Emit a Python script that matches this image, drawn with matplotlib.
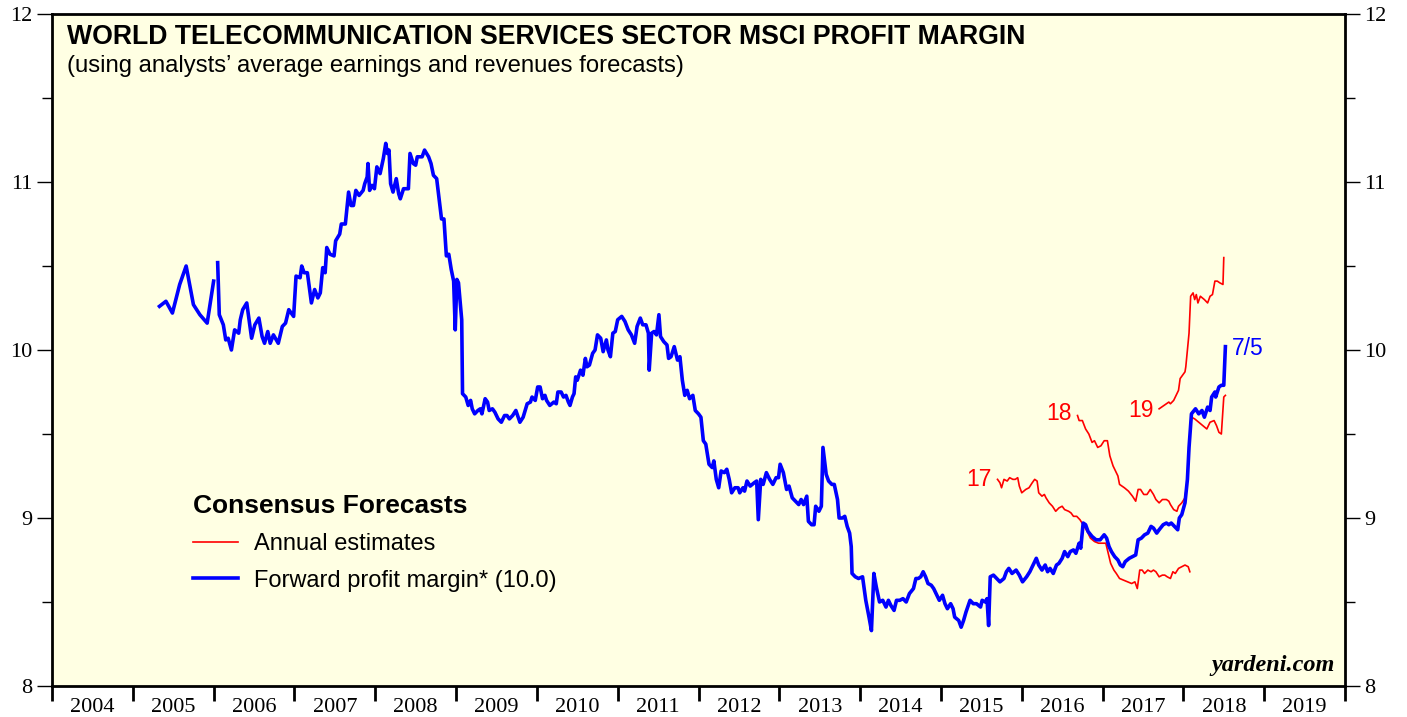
import numpy as np
import matplotlib
matplotlib.use("Agg")
import matplotlib.pyplot as plt
from matplotlib.lines import Line2D

# forward profit margin (weekly), nan = data gap
blue_years = [
    2005.33, 2005.41, 2005.49, 2005.58, 2005.66, 2005.75, 2005.83, 2005.92, 2006.00, np.nan,
    2006.05, 2006.07, 2006.12, 2006.15, 2006.18, 2006.22, 2006.26, 2006.31, 2006.33, 2006.36,
    2006.41, 2006.45, 2006.47, 2006.51, 2006.56, 2006.60, 2006.63, 2006.67, 2006.70, 2006.74,
    2006.80, 2006.85, 2006.89, 2006.93, 2006.99, 2007.02, 2007.07, 2007.09, 2007.12, 2007.16,
    2007.21, 2007.25, 2007.29, 2007.32, 2007.35, 2007.38, 2007.40, 2007.44, 2007.49, 2007.51,
    2007.56, 2007.58, 2007.63, 2007.67, 2007.70, 2007.73, 2007.76, 2007.80, 2007.85, 2007.87,
    2007.90, 2007.91, 2007.93, 2007.96, 2007.99, 2008.02, 2008.06, 2008.10, 2008.13, 2008.15,
    2008.17, 2008.19, 2008.22, 2008.26, 2008.29, 2008.31, 2008.35, 2008.41, 2008.43, 2008.47,
    2008.50, 2008.52, 2008.58, 2008.61, 2008.66, 2008.69, 2008.72, 2008.76, 2008.82, 2008.85,
    2008.88, 2008.91, 2008.94, 2008.97, 2008.99, 2009.01, 2009.03, 2009.07, 2009.08, 2009.12,
    2009.15, 2009.18, 2009.20, 2009.23, 2009.27, 2009.30, 2009.32, 2009.36, 2009.39, 2009.41,
    2009.45, 2009.48, 2009.52, 2009.56, 2009.60, 2009.63, 2009.66, 2009.70, 2009.74, 2009.79,
    2009.83, 2009.88, 2009.92, 2009.94, 2009.98, 2010.01, 2010.04, 2010.07, 2010.10, 2010.12,
    2010.16, 2010.21, 2010.24, 2010.26, 2010.30, 2010.33, 2010.36, 2010.39, 2010.41, 2010.44,
    2010.46, 2010.48, 2010.50, 2010.54, 2010.57, 2010.60, 2010.62, 2010.65, 2010.69, 2010.72,
    2010.75, 2010.79, 2010.82, 2010.86, 2010.88, 2010.91, 2010.94, 2010.97, 2011.00, 2011.05,
    2011.09, 2011.13, 2011.17, 2011.21, 2011.24, 2011.28, 2011.31, 2011.35, 2011.38, 2011.39,
    2011.42, 2011.45, 2011.48, 2011.51, 2011.53, 2011.57, 2011.61, 2011.63, 2011.66, 2011.70,
    2011.74, 2011.77, 2011.80, 2011.83, 2011.86, 2011.89, 2011.93, 2011.96, 2012.00, 2012.03,
    2012.06, 2012.09, 2012.13, 2012.17, 2012.19, 2012.22, 2012.25, 2012.28, 2012.32, 2012.35,
    2012.38, 2012.41, 2012.45, 2012.49, 2012.51, 2012.55, 2012.57, 2012.60, 2012.64, 2012.69,
    2012.72, 2012.74, 2012.77, 2012.80, 2012.84, 2012.88, 2012.92, 2012.96, 2012.99, 2013.01,
    2013.05, 2013.09, 2013.12, 2013.16, 2013.20, 2013.24, 2013.27, 2013.30, 2013.34, 2013.36,
    2013.40, 2013.43, 2013.45, 2013.49, 2013.52, 2013.54, 2013.58, 2013.61, 2013.65, 2013.68,
    2013.72, 2013.74, 2013.78, 2013.81, 2013.84, 2013.87, 2013.89, 2013.90, 2013.94, 2013.98,
    2014.03, 2014.07, 2014.11, 2014.14, 2014.17, 2014.20, 2014.24, 2014.28, 2014.32, 2014.35,
    2014.38, 2014.42, 2014.45, 2014.49, 2014.53, 2014.57, 2014.61, 2014.66, 2014.69, 2014.72,
    2014.75, 2014.78, 2014.81, 2014.84, 2014.88, 2014.91, 2014.94, 2014.98, 2015.02, 2015.05,
    2015.08, 2015.12, 2015.15, 2015.17, 2015.22, 2015.25, 2015.28, 2015.31, 2015.36, 2015.40,
    2015.44, 2015.49, 2015.51, 2015.55, 2015.57, 2015.59, 2015.61, 2015.65, 2015.69, 2015.73,
    2015.78, 2015.81, 2015.84, 2015.88, 2015.93, 2015.97, 2016.01, 2016.06, 2016.10, 2016.14,
    2016.18, 2016.21, 2016.25, 2016.29, 2016.32, 2016.35, 2016.39, 2016.43, 2016.46, 2016.50,
    2016.53, 2016.57, 2016.60, 2016.64, 2016.67, 2016.71, 2016.73, 2016.76, 2016.79, 2016.82,
    2016.87, 2016.92, 2016.97, 2017.02, 2017.05, 2017.08, 2017.11, 2017.15, 2017.19, 2017.22,
    2017.25, 2017.28, 2017.33, 2017.37, 2017.41, 2017.44, 2017.48, 2017.52, 2017.56, 2017.60,
    2017.63, 2017.67, 2017.70, 2017.75, 2017.79, 2017.82, 2017.85, 2017.89, 2017.93, 2017.95,
    2017.98, 2018.02, 2018.05, 2018.07, 2018.10, 2018.15, 2018.19, 2018.23, 2018.26, 2018.30,
    2018.33, 2018.35, 2018.39, 2018.40, 2018.44, 2018.47, 2018.50, 2018.52,
]
blue_vals = [
    10.26, 10.29, 10.22, 10.39, 10.50, 10.27, 10.21, 10.16, 10.41, np.nan,
    10.52, 10.21, 10.15, 10.06, 10.07, 10.00, 10.12, 10.10, 10.18, 10.24,
    10.28, 10.14, 10.07, 10.15, 10.19, 10.08, 10.04, 10.11, 10.04, 10.09,
    10.04, 10.14, 10.16, 10.24, 10.20, 10.44, 10.43, 10.50, 10.46, 10.46,
    10.28, 10.36, 10.31, 10.34, 10.49, 10.46, 10.61, 10.57, 10.56, 10.65,
    10.69, 10.75, 10.75, 10.94, 10.86, 10.86, 10.95, 10.92, 10.95, 10.99,
    11.03, 11.11, 10.95, 10.98, 10.96, 11.09, 11.05, 11.14, 11.23, 11.17,
    11.19, 10.99, 10.94, 11.02, 10.93, 10.90, 10.96, 10.96, 11.17, 11.11,
    11.10, 11.15, 11.15, 11.19, 11.15, 11.11, 11.04, 11.02, 10.78, 10.78,
    10.56, 10.57, 10.48, 10.41, 10.12, 10.42, 10.40, 10.18, 9.74, 9.72,
    9.67, 9.70, 9.65, 9.62, 9.64, 9.65, 9.62, 9.71, 9.69, 9.64,
    9.65, 9.63, 9.59, 9.57, 9.61, 9.61, 9.59, 9.61, 9.64, 9.57,
    9.60, 9.68, 9.69, 9.72, 9.70, 9.78, 9.78, 9.71, 9.73, 9.70,
    9.67, 9.69, 9.68, 9.75, 9.75, 9.72, 9.73, 9.69, 9.67, 9.72,
    9.74, 9.84, 9.82, 9.88, 9.85, 9.95, 9.90, 9.91, 9.98, 10.00,
    10.09, 10.07, 9.99, 10.06, 10.00, 9.96, 10.10, 10.11, 10.18, 10.20,
    10.17, 10.12, 10.09, 10.04, 10.14, 10.19, 10.15, 10.15, 10.10, 9.88,
    10.10, 10.11, 10.09, 10.21, 10.08, 10.05, 10.03, 9.95, 9.96, 10.02,
    9.94, 9.96, 9.82, 9.73, 9.76, 9.71, 9.73, 9.64, 9.62, 9.60,
    9.46, 9.44, 9.32, 9.30, 9.34, 9.23, 9.18, 9.28, 9.27, 9.29,
    9.23, 9.15, 9.18, 9.18, 9.15, 9.18, 9.16, 9.22, 9.19, 9.21,
    9.22, 8.99, 9.23, 9.20, 9.27, 9.23, 9.20, 9.24, 9.24, 9.32,
    9.27, 9.17, 9.19, 9.12, 9.10, 9.08, 9.11, 9.08, 9.13, 8.98,
    8.96, 8.96, 9.07, 9.04, 9.07, 9.42, 9.26, 9.22, 9.20, 9.20,
    9.11, 9.00, 9.00, 9.01, 8.95, 8.91, 8.83, 8.67, 8.65, 8.64,
    8.65, 8.51, 8.41, 8.33, 8.67, 8.59, 8.50, 8.51, 8.47, 8.51,
    8.48, 8.45, 8.51, 8.51, 8.52, 8.50, 8.55, 8.58, 8.64, 8.64,
    8.65, 8.68, 8.65, 8.61, 8.60, 8.58, 8.55, 8.51, 8.54, 8.49,
    8.46, 8.49, 8.46, 8.41, 8.39, 8.35, 8.39, 8.44, 8.51, 8.49,
    8.49, 8.47, 8.51, 8.50, 8.52, 8.36, 8.65, 8.66, 8.64, 8.62,
    8.64, 8.68, 8.70, 8.67, 8.69, 8.66, 8.62, 8.65, 8.68, 8.72,
    8.76, 8.72, 8.69, 8.72, 8.68, 8.70, 8.67, 8.72, 8.73, 8.76,
    8.80, 8.77, 8.80, 8.81, 8.79, 8.85, 8.82, 8.97, 8.96, 8.92,
    8.89, 8.87, 8.87, 8.90, 8.88, 8.83, 8.80, 8.77, 8.75, 8.72,
    8.71, 8.74, 8.76, 8.77, 8.78, 8.87, 8.88, 8.90, 8.91, 8.95,
    8.94, 8.91, 8.93, 8.96, 8.97, 8.96, 8.97, 8.95, 8.93, 9.00,
    9.02, 9.09, 9.23, 9.42, 9.62, 9.65, 9.62, 9.64, 9.60, 9.66,
    9.64, 9.72, 9.75, 9.72, 9.78, 9.79, 9.79, 10.02,
]

# annual consensus estimates
est17_years = [
    2015.70, 2015.73, 2015.75, 2015.78, 2015.82, 2015.85, 2015.89, 2015.92, 2015.95, 2015.97,
    2016.00, 2016.05, 2016.09, 2016.13, 2016.16, 2016.19, 2016.21, 2016.25, 2016.28, 2016.30,
    2016.34, 2016.38, 2016.42, 2016.46, 2016.50, 2016.53, 2016.58, 2016.61, 2016.64, 2016.68,
    2016.72, 2016.76, 2016.81, 2016.85, 2016.90, 2016.95, 2016.99, 2017.04, 2017.07, 2017.10,
    2017.14, 2017.17, 2017.21, 2017.26, 2017.31, 2017.36, 2017.40, 2017.43, 2017.46, 2017.49,
    2017.52, 2017.56, 2017.60, 2017.63, 2017.66, 2017.70, 2017.74, 2017.77, 2017.80, 2017.84,
    2017.87, 2017.90, 2017.94, 2017.98, 2018.02, 2018.06, 2018.08,
]
est17_vals = [
    9.23, 9.21, 9.18, 9.23, 9.22, 9.24, 9.23, 9.23, 9.24, 9.19,
    9.15, 9.17, 9.18, 9.21, 9.23, 9.22, 9.15, 9.13, 9.14, 9.12,
    9.09, 9.07, 9.04, 9.06, 9.07, 9.05, 9.04, 9.03, 9.01, 9.01,
    8.99, 8.96, 8.92, 8.88, 8.86, 8.85, 8.85, 8.85, 8.79, 8.73,
    8.69, 8.67, 8.64, 8.63, 8.62, 8.61, 8.62, 8.58, 8.69, 8.69,
    8.67, 8.69, 8.68, 8.69, 8.68, 8.65, 8.66, 8.66, 8.65, 8.64,
    8.68, 8.67, 8.70, 8.71, 8.72, 8.71, 8.68,
]
est18_years = [
    2016.69, 2016.71, 2016.75, 2016.79, 2016.83, 2016.87, 2016.90, 2016.94, 2016.98, 2017.02,
    2017.06, 2017.09, 2017.13, 2017.16, 2017.19, 2017.21, 2017.27, 2017.32, 2017.37, 2017.41,
    2017.44, 2017.47, 2017.51, 2017.55, 2017.59, 2017.63, 2017.66, 2017.70, 2017.74, 2017.79,
    2017.82, 2017.84, 2017.88, 2017.92, 2017.94, 2017.98, 2018.02, 2018.05, 2018.07, 2018.10,
    2018.14, 2018.19, 2018.24, 2018.29, 2018.33, 2018.38, 2018.41, 2018.44, 2018.47, 2018.50,
    2018.52,
]
est18_vals = [
    9.61, 9.58, 9.58, 9.53, 9.50, 9.45, 9.46, 9.42, 9.43, 9.46,
    9.46, 9.37, 9.31, 9.28, 9.25, 9.20, 9.18, 9.16, 9.13, 9.10,
    9.17, 9.17, 9.14, 9.14, 9.17, 9.14, 9.11, 9.09, 9.11, 9.11,
    9.10, 9.08, 9.05, 9.04, 9.07, 9.09, 9.12, 9.23, 9.42, 9.60,
    9.59, 9.57, 9.55, 9.53, 9.57, 9.58, 9.55, 9.51, 9.50, 9.72,
    9.73,
]
est19_years = [
    2017.70, 2017.76, 2017.79, 2017.82, 2017.84, 2017.88, 2017.91, 2017.94, 2017.96, 2017.99,
    2018.02, 2018.03, 2018.05, 2018.07, 2018.09, 2018.12, 2018.14, 2018.16, 2018.18, 2018.21,
    2018.26, 2018.30, 2018.33, 2018.36, 2018.39, 2018.42, 2018.45, 2018.49, 2018.50,
]
est19_vals = [
    9.65, 9.67, 9.68, 9.69, 9.68, 9.70, 9.73, 9.76, 9.83, 9.85,
    9.87, 9.90, 10.00, 10.10, 10.32, 10.34, 10.30, 10.33, 10.28, 10.32,
    10.30, 10.28, 10.32, 10.33, 10.41, 10.41, 10.40, 10.39, 10.55,
]

years = list(range(2004, 2020))
year_labels = [str(y) for y in years]

BLUE = "#0000ff"
RED = "#ff0000"
SANS = "Liberation Sans"
SERIF = "Liberation Serif"

fig = plt.figure(figsize=(14.07, 7.17), dpi=100)
ax = fig.add_axes([52 / 1407, 1 - 686 / 717, 1293 / 1407, 672 / 717])
ax.set_facecolor("#ffffe3")

ax.plot(est17_years, est17_vals, color=RED, lw=1.2)
ax.plot(est18_years, est18_vals, color=RED, lw=1.2)
ax.plot(est19_years, est19_vals, color=RED, lw=1.2)
ax.plot(blue_years, blue_vals, color=BLUE, lw=2.6, solid_joinstyle="round")

ax.set_xlim(2004, 2020)
ax.set_ylim(8, 12)

# x axis: ticks at year boundaries, labels centred in each year
ax.set_xticks(range(2004, 2021))
ax.set_xticklabels([])
ax.set_xticks([y + 0.5 for y in years], minor=True)
ax.set_xticklabels(year_labels, minor=True, fontfamily=SERIF, fontsize=16)
ax.tick_params(axis="x", which="major", direction="out", length=11, width=2)
ax.tick_params(axis="x", which="minor", length=0, pad=8.5)

ax.set_yticks([8, 9, 10, 11, 12])
ax.set_yticks([8.5, 9.5, 10.5, 11.5], minor=True)
ax.set_yticklabels(["8", "9", "10", "11", "12"], fontfamily=SERIF, fontsize=16)
ax.tick_params(axis="y", which="both", direction="out", left=True, right=True,
               labelleft=True, labelright=True, width=1)
ax.tick_params(axis="y", which="major", length=11, pad=3)
ax.tick_params(axis="y", which="minor", length=7)

for s in ax.spines.values():
    s.set_linewidth(2)

ax.text(0.0116, 0.966, "WORLD TELECOMMUNICATION SERVICES SECTOR MSCI PROFIT MARGIN",
        transform=ax.transAxes, fontfamily=SANS, fontweight="bold", fontsize=19.2,
        va="center", ha="left")
ax.text(0.0116, 0.923, "(using analysts\u2019 average earnings and revenues forecasts)",
        transform=ax.transAxes, fontfamily=SANS, fontsize=17.2, va="center", ha="left")

ax.text(2015.47, 9.23, "17", color=RED, fontfamily=SANS, fontsize=16.5, ha="center", va="center")
ax.text(2016.46, 9.62, "18", color=RED, fontfamily=SANS, fontsize=16.5, ha="center", va="center")
ax.text(2017.47, 9.64, "19", color=RED, fontfamily=SANS, fontsize=16.5, ha="center", va="center")
ax.text(2018.60, 10.01, "7/5", color=BLUE, fontfamily=SANS, fontsize=16.5, ha="left", va="center")

ax.text(0.992, 0.031, "yardeni.com", transform=ax.transAxes, fontfamily=SERIF,
        fontstyle="italic", fontweight="bold", fontsize=17.5, ha="right", va="center")

handles = [Line2D([], [], color=RED, lw=1.2), Line2D([], [], color=BLUE, lw=2.6)]
leg = ax.legend(handles, ["Annual estimates", "Forward profit margin* (10.0)"],
                title="Consensus Forecasts", loc="upper left",
                bbox_to_anchor=(0.109, 0.285), frameon=False, alignment="left",
                prop={"family": SANS, "size": 17},
                title_fontproperties={"family": SANS, "size": 19, "weight": "bold"},
                handlelength=1.9, handletextpad=0.68, labelspacing=0.62,
                borderpad=0, borderaxespad=0)

fig.savefig("out.png", dpi=100, facecolor="white")
